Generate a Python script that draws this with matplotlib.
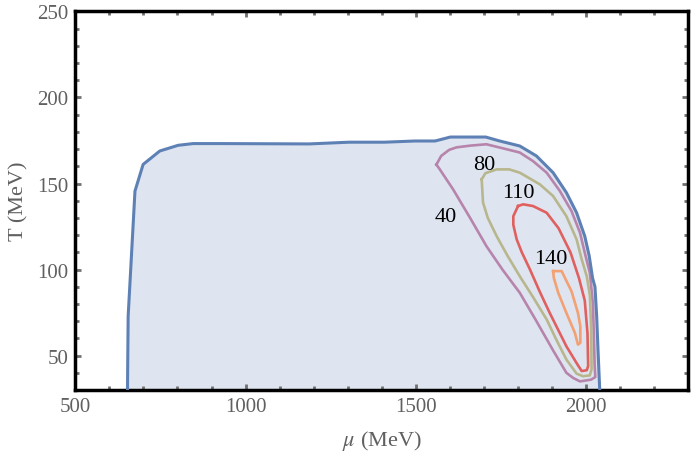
import numpy as np
import matplotlib.pyplot as plt
from matplotlib.ticker import MultipleLocator

# outer boundary of the region (mu, T)
edge_mu = [653, 655, 663, 675, 699, 748, 802, 846, 925, 1187, 1304, 1408,
           1498, 1557, 1602, 1706, 1747, 1806, 1855, 1904, 1943, 1973, 1997,
           2010, 2020, 2027, 2032, 2036, 2041]
edge_T = [30, 73, 102, 145.6, 161.1, 168.9, 172.2, 173.2, 173.2, 173, 174, 174,
          174.7, 174.7, 177, 177, 174.7, 171.8, 166, 156.3, 144.7, 133, 119.4,
          108, 95, 90, 73, 53, 30]

# contour levels
c40_mu = [1561, 1575, 1598, 1620, 1660, 1708, 1747, 1806, 1845, 1885, 1924, 1958,
          1983, 1997, 2012, 2021, 2024, 2026, 2028, 2015, 1983, 1963, 1943,
          1904, 1855, 1806, 1755, 1708, 1660, 1610, 1571, 1561]
c40_T = [161, 166, 169.5, 171, 172, 172.8, 170.9, 168, 163, 156.3, 145.6, 134,
         121.4, 109.8, 98, 80, 60, 45, 37.5, 36, 35, 37, 40,
         53, 70, 86.5, 100, 113.6, 130, 146.6, 158.2, 161]

c80_mu = [1694, 1705, 1738, 1775, 1806, 1865, 1904, 1943, 1973, 1988, 2003, 2012,
          2016, 2017, 2012, 1992, 1973, 1943, 1914, 1885, 1845,
          1806, 1770, 1738, 1712, 1698, 1694]
c80_T = [152.4, 156, 158.2, 158.2, 156.3, 149.5, 142.7, 131, 117.5, 105.9, 96, 85,
         65, 42, 38.5, 38, 39.5, 47.7, 59, 71, 84,
         96.1, 108, 119.4, 130, 138.9, 152.4]

c110_mu = [1801, 1816, 1845, 1885, 1920, 1955, 1980, 1997, 2005, 2007, 2003, 1988,
           1975, 1943, 1894, 1865, 1836, 1812, 1797, 1787, 1787, 1801]
c110_T = [136.9, 137.9, 136.9, 133, 124, 110, 95, 82, 63, 44, 41.5, 41,
          45, 55.4, 74.8, 87, 100, 110, 117.5, 126, 131, 136.9]

c140_mu = [1904, 1929, 1958, 1977, 1984, 1984, 1977, 1968, 1943, 1919, 1906, 1904]
c140_T = [99.1, 99.1, 87.4, 74.8, 67, 57.4, 56.4, 63.2, 74.8, 86.5, 95.2, 99.1]

labels = ['40', '80', '110', '140']
label_mu = [1589, 1703, 1801, 1897]
label_T = [131, 161, 144.7, 106.3]

plt.rcParams['font.family'] = ['Liberation Serif', 'DejaVu Serif']
plt.rcParams['mathtext.fontset'] = 'stix'

fig = plt.figure(figsize=(6.92, 4.60), dpi=100)
ax = fig.add_axes([0.109, 0.150, 0.885, 0.823])

ax.fill(edge_mu, edge_T, color='#dfe5f0', lw=0, zorder=1)
ax.plot(edge_mu, edge_T, color='#5e81b5', lw=2.2, zorder=3)

ax.plot(c40_mu, c40_T, color='#b784ab', lw=1.9, zorder=2)
ax.plot(c80_mu, c80_T, color='#b8b68c', lw=1.9, zorder=2)
ax.plot(c110_mu, c110_T, color='#e0605f', lw=1.9, zorder=2)
ax.plot(c140_mu, c140_T, color='#f3a072', lw=1.9, zorder=2)

for s, m, t in zip(labels, label_mu, label_T):
    ax.text(m, t, s, fontsize=16, color='black', ha='center', va='center', zorder=4)

ax.set_xlim(500, 2300)
ax.set_ylim(30, 250)
ax.xaxis.set_major_locator(MultipleLocator(500))
ax.xaxis.set_minor_locator(MultipleLocator(100))
ax.yaxis.set_major_locator(MultipleLocator(50))
ax.yaxis.set_minor_locator(MultipleLocator(10))

ax.tick_params(which='both', direction='in', top=True, right=True,
               color='#707070', labelcolor='#606060', labelsize=15, pad=5)
ax.tick_params(which='major', length=4.5, width=2)
ax.tick_params(which='minor', length=3, width=2)

for sp in ax.spines.values():
    sp.set_linewidth(2.5)
    sp.set_color('black')

ax.set_xlabel(r'$\mu$ (MeV)', fontsize=16, color='#606060', labelpad=9)
ax.set_ylabel('T (MeV)', fontsize=16, color='#606060', labelpad=6)

fig.savefig('out.png', dpi=100)
